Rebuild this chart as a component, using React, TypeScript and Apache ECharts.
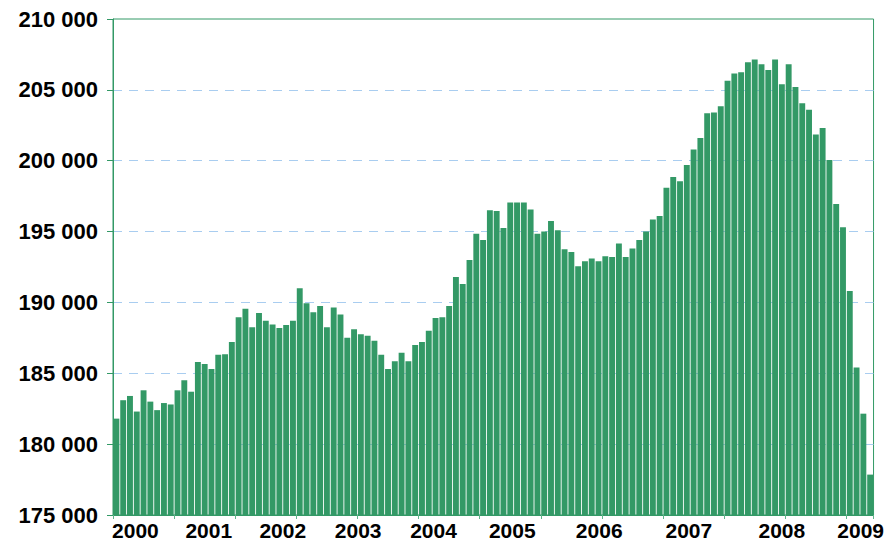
import React, { useEffect, useRef } from "react";
import * as echarts from "echarts";

const y2000 = [181800, 183100, 183400, 182300, 183800, 183000, 182400, 182900, 182800, 183800, 184500, 183700];
const y2001 = [185800, 185650, 185300, 186300, 186350, 187200, 188950, 189550, 188250, 189250, 188700, 188450];
const y2002 = [188200, 188400, 188700, 191000, 189950, 189300, 189750, 188250, 189650, 189150, 187500, 188100];
const y2003 = [187750, 187650, 187300, 186300, 185300, 185850, 186450, 185850, 187000, 187200, 188000, 188900];
const y2004 = [188950, 189750, 191800, 191300, 193000, 194850, 194400, 196500, 196450, 195250, 197050, 197050];
const y2005 = [197050, 196550, 194850, 195000, 195750, 195100, 193750, 193550, 192550, 192900, 193100, 192900];
const y2006 = [193250, 193200, 194150, 193200, 193800, 194400, 195000, 195850, 196100, 198100, 198850, 198550];
const y2007 = [199700, 200800, 201600, 203350, 203400, 203850, 205650, 206150, 206250, 206950, 207150, 206800];
const y2008 = [206400, 207150, 205400, 206800, 205200, 204050, 203600, 201850, 202300, 200050, 196950, 195300];
const y2009 = [190800, 185400, 182150, 177850];

const yearBlocks = [y2000, y2001, y2002, y2003, y2004, y2005, y2006, y2007, y2008, y2009];
const startYear = 2000;

const yearLabels = ["2000", "2001", "2002", "2003", "2004", "2005", "2006", "2007", "2008", "2009"];
// positions of the year labels, in month-index units along the axis
const yearLabelPositions = [2.8, 13.6, 24.5, 35.6, 46.7, 58.3, 71.1, 84.3, 98.0, 109.6];

const yMin = 175000;
const yMax = 210000;
const yStep = 5000;

export default function App() {
  const ref = useRef<HTMLDivElement>(null);
  useEffect(() => {
    if (!ref.current) return;
    const chart = echarts.init(ref.current, null, { renderer: "svg" });
    const categories: string[] = [];
    const values: number[] = [];
    yearBlocks.forEach((blk, yi) => {
      blk.forEach((v, mi) => {
        categories.push(`${startYear + yi}-${String(mi + 1).padStart(2, "0")}`);
        values.push(v);
      });
    });
    const n = values.length;
    const green = "#339966";
    const font = "'Liberation Sans', Arial, sans-serif";
    chart.setOption({
      animation: false,
      backgroundColor: "#ffffff",
      grid: {
        left: 113,
        right: 12,
        top: 19,
        bottom: 27,
        show: true,
        borderColor: green,
        borderWidth: 1,
        backgroundColor: "transparent",
      },
      xAxis: [
        {
          type: "category",
          data: categories,
          position: "bottom",
          axisLine: { show: true, onZero: false, lineStyle: { color: green, width: 1 } },
          axisTick: { show: true, length: 4, lineStyle: { color: "#5fb58a" } },
          axisLabel: { show: false },
          splitLine: { show: false },
        },
        {
          type: "value",
          position: "bottom",
          min: -0.5,
          max: n - 0.5,
          axisLine: { show: false, onZero: false },
          axisTick: { show: false },
          splitLine: { show: false },
          axisLabel: {
            show: true,
            customValues: yearLabelPositions,
            formatter: (v: number) => {
              const idx = yearLabelPositions.findIndex((p) => Math.abs(p - v) < 1e-6);
              return idx >= 0 ? yearLabels[idx] : "";
            },
            color: "#000",
            fontFamily: font,
            fontWeight: "bold",
            fontSize: 21,
            margin: 5,
          },
        },
      ],
      yAxis: {
        type: "value",
        min: yMin,
        max: yMax,
        interval: yStep,
        axisLine: { show: true, onZero: false, lineStyle: { color: green, width: 1 } },
        axisTick: { show: true, length: 6, lineStyle: { color: green } },
        axisLabel: {
          color: "#000",
          fontFamily: font,
          fontWeight: "bold",
          fontSize: 22,
          margin: 15,
          formatter: (v: number) => {
            const s = String(Math.round(v));
            return s.replace(/\B(?=(\d{3})+(?!\d))/g, " ");
          },
        },
        splitLine: {
          show: true,
          showMinLine: false,
          showMaxLine: false,
          lineStyle: { color: "#a9cdf0", type: [9, 7], width: 1 },
        },
      },
      series: [
        {
          type: "bar",
          xAxisIndex: 0,
          data: values,
          barCategoryGap: "13%",
          itemStyle: { color: green },
        },
      ],
    });
    return () => chart.dispose();
  }, []);
  return (
    <div
      ref={ref}
      style={{ position: "fixed", left: 0, top: 0, width: 887, height: 542 }}
    />
  );
}
